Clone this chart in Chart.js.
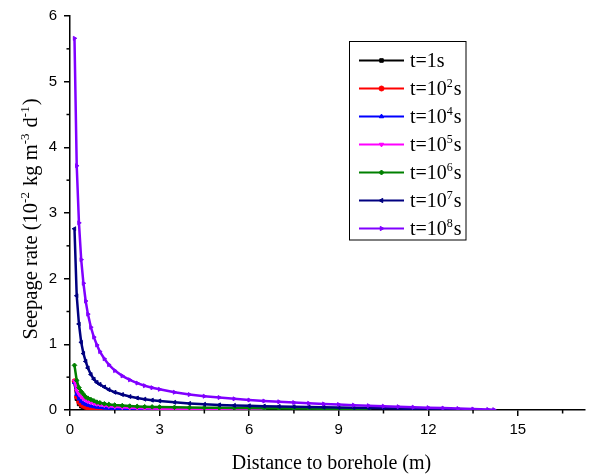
<!DOCTYPE html>
<html>
<head>
<meta charset="utf-8">
<script src="https://cdn.jsdelivr.net/npm/chart.js@4"></script>
<style>
body{margin:0;background:#fff;}
</style>
</head>
<body>
<canvas id="seepChart" width="590" height="476"></canvas>
<script>
// distance to borehole (m)
const dist = [0.15,0.225,0.3,0.375,0.45,0.525,0.6,0.7,0.8,0.9,1.0,1.15,1.3,1.5,1.75,2.0,2.25,2.5,2.75,3.0,
  3.5,4.0,4.5,5.0,5.5,6.0,6.5,7.0,7.5,8.0,8.5,9.0,9.5,10.0,10.5,11.0,11.5,12.0,12.5,13.0,13.5,14.0,14.2];

// seepage rate (10^-2 kg m^-3 d^-1)
const rate1s = [0.43,0.17,0.09,0.055,0.036,0.025,0.018,0.012,0.008,0.005,0.003,0.002,0.001];
const rate1e2 = [0.44,0.2,0.12,0.08,0.06,0.045,0.035,0.026,0.02,0.015,0.012,0.008,0.006,0.004,0.002,0.001];
const rate1e4 = [0.42,0.24,0.17,0.13,0.105,0.088,0.075,0.062,0.052,0.044,0.038,0.031,0.026,0.02,0.015,0.011,
  0.008,0.006,0.004,0.003,0.002,0.001];
const rate1e5 = [0.44,0.3,0.24,0.2,0.17,0.15,0.13,0.115,0.1,0.09,0.08,0.068,0.058,0.048,0.04,0.034,
  0.03,0.026,0.023,0.02,0.016,0.013,0.01,0.008,0.006,0.004,0.002];
const rate1e6 = [0.68,0.45,0.34,0.28,0.24,0.2,0.18,0.16,0.14,0.12,0.11,0.095,0.085,0.075,0.067,0.06,
  0.055,0.05,0.047,0.045,0.04,0.037,0.035,0.033,0.031,0.03,0.028,0.026,0.024,0.021,0.018,0.014,0.01,0.006];
const rate1e7 = [2.76,1.74,1.31,1.03,0.86,0.74,0.64,0.54,0.47,0.42,0.39,0.35,0.31,0.27,0.235,0.205,
  0.183,0.165,0.15,0.138,0.117,0.1,0.087,0.078,0.07,0.064,0.059,0.054,0.05,0.046,0.042,0.038,0.034,
  0.03,0.026,0.021,0.016,0.011,0.006,0.002];
const rate1e8 = [5.66,3.72,2.85,2.29,1.93,1.66,1.46,1.26,1.11,0.99,0.89,0.78,0.69,0.6,0.52,0.46,
  0.41,0.37,0.34,0.315,0.27,0.235,0.21,0.19,0.17,0.152,0.137,0.125,0.113,0.102,0.092,0.083,0.074,
  0.066,0.058,0.05,0.043,0.036,0.029,0.022,0.015,0.008,0.005];

const seriesLabels = ['t=1s','t=10²s','t=10⁴s','t=10⁵s','t=10⁶s','t=10⁷s','t=10⁸s'];
const seriesData = [rate1s,rate1e2,rate1e4,rate1e5,rate1e6,rate1e7,rate1e8];
const seriesColors = ['#000000','#ff0000','#0000ff','#ff00ff','#008000','#000080','#8000ff'];
const seriesMarkers = ['rect','circle','triangle','triangle','rectRot','triangle','triangle'];
const markerRotation = [0,0,0,180,0,-90,90];

const xTicks = [0,3,6,9,12,15];
const xMinor = [1.5,4.5,7.5,10.5,13.5,16.5];
const yTicks = [0,1,2,3,4,5,6];
const yMinor = [0.5,1.5,2.5,3.5,4.5,5.5];
const xTitle = 'Distance to borehole (m)';
const yTitle = 'Seepage rate (10⁻² kg m⁻³ d⁻¹)';

// superscript characters are drawn as small raised text
const supMap = {'⁻':'-','¹':'1','²':'2','³':'3','⁴':'4','⁵':'5','⁶':'6','⁷':'7','⁸':'8'};

function splitSup(text){
  let segs = [];
  for(const ch of text){
    let sup = ch in supMap;
    let c = sup ? supMap[ch] : ch;
    let last = segs[segs.length-1];
    if(last && last.sup === sup) last.t += c;
    else segs.push({t:c, sup:sup});
  }
  return segs;
}

function drawRich(ctx, text, x, y, size, align){
  let segs = splitSup(text);
  let supSize = Math.round(size*0.62);
  let w = 0;
  segs.forEach(s => {
    ctx.font = (s.sup ? supSize : size) + 'px "Liberation Serif"';
    s.w = ctx.measureText(s.t).width + (s.sup ? 1 : 0);
    w += s.w;
  });
  let cx = align === 'center' ? x - w/2 : x;
  ctx.textAlign = 'left';
  ctx.textBaseline = 'alphabetic';
  segs.forEach(s => {
    ctx.font = (s.sup ? supSize : size) + 'px "Liberation Serif"';
    ctx.fillText(s.t, cx, s.sup ? y - size*0.38 : y);
    cx += s.w;
  });
}

const extras = {
  id: 'extras',
  afterDraw(chart){
    const ctx = chart.ctx;
    const xs = chart.scales.x, ys = chart.scales.y, area = chart.chartArea;
    ctx.save();
    ctx.strokeStyle = '#000';
    ctx.lineWidth = 1.5;
    xMinor.forEach(v => {
      let px = xs.getPixelForValue(v);
      ctx.beginPath(); ctx.moveTo(px, area.bottom); ctx.lineTo(px, area.bottom+3.5); ctx.stroke();
    });
    yMinor.forEach(v => {
      let py = ys.getPixelForValue(v);
      ctx.beginPath(); ctx.moveTo(area.left, py); ctx.lineTo(area.left-3.5, py); ctx.stroke();
    });

    ctx.fillStyle = '#000';
    drawRich(ctx, xTitle, (area.left+area.right)/2 + 4, 469, 20, 'center');
    ctx.save();
    ctx.translate(37, 219);
    ctx.rotate(-Math.PI/2);
    drawRich(ctx, yTitle, 0, 0, 20.5, 'center');
    ctx.restore();

    // legend box
    ctx.fillStyle = '#fff';
    ctx.fillRect(349.5, 41.5, 116.5, 198.5);
    ctx.strokeStyle = '#000';
    ctx.lineWidth = 1;
    ctx.strokeRect(349.5, 41.5, 116.5, 198.5);
    chart.data.datasets.forEach((ds, i) => {
      let y = 60.5 + 28*i;
      ctx.strokeStyle = ds.borderColor;
      ctx.lineWidth = 2;
      ctx.beginPath(); ctx.moveTo(359, y); ctx.lineTo(404, y); ctx.stroke();
      ctx.fillStyle = ds.borderColor;
      ctx.lineWidth = 1;
      Chart.helpers.drawPoint(ctx, {pointStyle: ds.pointStyle, rotation: ds.pointRotation, radius: 2.5, borderWidth: 1}, 381.5, y);
      ctx.fillStyle = '#000';
      drawRich(ctx, ds.label, 410, y+6.5, 20, 'left');
    });
    ctx.restore();
  }
};

const datasets = seriesData.map((vals, i) => ({
  label: seriesLabels[i],
  data: vals.map((v, j) => ({x: dist[j], y: v})),
  borderColor: seriesColors[i],
  backgroundColor: seriesColors[i],
  borderWidth: 2.5,
  pointStyle: seriesMarkers[i],
  pointRotation: markerRotation[i],
  pointRadius: 2.3,
  pointBorderWidth: 1,
  tension: 0,
  order: seriesData.length - 1 - i
}));

const ctx = document.getElementById('seepChart');

new Chart(ctx, {
  type: 'line',
  data: { datasets: datasets },
  options: {
    responsive: false,
    animation: false,
    devicePixelRatio: 1,
    layout: { padding: { top: 16, right: 0, left: 0, bottom: 0 } },
    plugins: { legend: { display: false }, tooltip: { enabled: false } },
    scales: {
      x: {
        type: 'linear', min: 0, max: 17.25,
        afterBuildTicks: s => { s.ticks = xTicks.map(v => ({value: v})); },
        afterFit: s => { s.height = 66; },
        ticks: { font: { family: 'Liberation Sans', size: 15 }, color: '#000', padding: 5, maxRotation: 0, autoSkip: false },
        grid: { drawOnChartArea: false, tickLength: 6, color: '#000', lineWidth: 1.5 },
        border: { color: '#000', width: 1.5 }
      },
      y: {
        type: 'linear', min: 0, max: 6,
        afterBuildTicks: s => { s.ticks = yTicks.map(v => ({value: v})); },
        afterFit: s => { s.width = 70; },
        ticks: { font: { family: 'Liberation Sans', size: 15 }, color: '#000', padding: 7 },
        grid: { drawOnChartArea: false, tickLength: 6, color: '#000', lineWidth: 1.5 },
        border: { color: '#000', width: 1.5 }
      }
    }
  },
  plugins: [extras]
});
</script>
</body>
</html>
